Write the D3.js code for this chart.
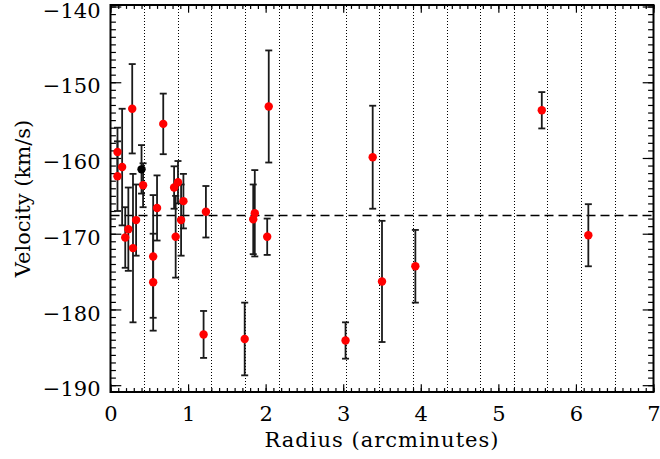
<!DOCTYPE html>
<html><head><meta charset="utf-8">
<script src="https://cdn.jsdelivr.net/npm/d3@7"></script>
<style>
html,body{margin:0;padding:0;background:#fff;}
svg{display:block;}
text{font-family:"DejaVu Serif",serif;fill:#000;}
</style></head>
<body><svg id="c" width="660" height="459"></svg>
<script>
// Data (radius in arcmin, velocity km/s, error km/s)
const radius   = [0.28, 0.68, 0.09, 0.15, 0.09, 0.42, 0.23, 0.19, 0.29, 0.33, 0.55, 0.55, 0.60, 0.82, 0.87, 0.94, 0.91, 0.84, 1.23, 1.86, 1.84, 2.02, 2.04, 1.20, 1.73, 3.38, 5.56, 3.03, 3.50, 3.93, 6.16];
const velocity = [-153.5, -155.5, -159.2, -161.2, -162.4, -163.6, -169.4, -170.5, -171.9, -168.2, -173.0, -176.4, -166.6, -163.9, -163.2, -165.7, -168.2, -170.4, -167.1, -167.3, -168.1, -170.4, -153.2, -183.3, -183.9, -159.9, -153.7, -184.1, -176.3, -174.3, -170.2];
const errors   = [5.9, 4.0, 3.2, 7.7, 4.6, 2.9, 5.5, 4.0, 9.8, 4.7, 8.1, 6.4, 4.3, 2.8, 2.8, 3.6, 4.7, 5.4, 3.4, 5.7, 4.6, 2.4, 7.4, 3.1, 4.8, 6.8, 2.4, 2.4, 8.0, 4.8, 4.1];
// highlighted (black) star
const blackRadius = [0.40];
const blackVelocity = [-161.5];
const blackError = [3.2];
// systemic velocity (dashed line)
const meanVelocity = -167.5;
// dotted reference radii
const gridRadii = [0.433, 0.867, 1.3, 1.733, 2.167, 2.6, 3.033, 3.467, 3.9, 4.333, 4.767, 5.2, 5.633, 6.067, 6.5];
const xTicks = [0,1,2,3,4,5,6,7];
const yTicks = [-140,-150,-160,-170,-180,-190];
const xLabel = "Radius (arcminutes)";
const yLabel = "Velocity (km/s)";

const L = 110.5, R = 653.5, T = 5, B = 392;
const svg = d3.select("#c");
const x = d3.scaleLinear().domain([0,7]).range([L,R]);
const y = d3.scaleLinear().domain([-190.9,-139.8]).range([B,T]);
const snap = v => Math.round(v) + 0.5;

// dotted verticals
svg.append("g").selectAll("line").data(gridRadii).join("line")
  .attr("x1",d=>snap(x(d))).attr("x2",d=>snap(x(d))).attr("y1",6).attr("y2",B)
  .attr("stroke","#000").attr("stroke-width",1).attr("stroke-dasharray","1,2");

// dashed mean line
svg.append("line").attr("x1",L).attr("x2",R).attr("y1",snap(y(meanVelocity))).attr("y2",snap(y(meanVelocity)))
  .attr("stroke","#000").attr("stroke-width",1.3).attr("stroke-dasharray","9,5");

// axes
const xMinor = d3.range(0,7.0001,0.1).map(v=>+v.toFixed(2));
const yMinor = d3.range(-190,-139.5,1);
function styleAxis(g){ g.select(".domain").remove(); g.selectAll("line").attr("stroke","#000").attr("stroke-width",1.2); }
svg.append("g").attr("transform",`translate(0,${B})`)
  .call(d3.axisBottom(x).tickValues(xMinor).tickSize(-3.9).tickFormat("")).call(styleAxis);
svg.append("g").attr("transform",`translate(0,${T})`)
  .call(d3.axisTop(x).tickValues(xMinor).tickSize(-3.9).tickFormat("")).call(styleAxis);
svg.append("g").attr("transform",`translate(${L},0)`)
  .call(d3.axisLeft(y).tickValues(yMinor).tickSize(-5.4).tickFormat("")).call(styleAxis);
svg.append("g").attr("transform",`translate(${R},0)`)
  .call(d3.axisRight(y).tickValues(yMinor).tickSize(-5.4).tickFormat("")).call(styleAxis);

const xb = svg.append("g").attr("transform",`translate(0,${B})`)
  .call(d3.axisBottom(x).tickValues(xTicks).tickSize(-7.7).tickPadding(14).tickFormat(d3.format("d"))).call(styleAxis);
xb.selectAll("text").attr("font-size",21).attr("font-family","DejaVu Serif");
svg.append("g").attr("transform",`translate(0,${T})`)
  .call(d3.axisTop(x).tickValues(xTicks).tickSize(-7.7).tickFormat("")).call(styleAxis);
const yl = svg.append("g").attr("transform",`translate(${L},0)`)
  .call(d3.axisLeft(y).tickValues(yTicks).tickSize(-10.8).tickPadding(10).tickFormat(d=>"\u2212"+Math.abs(d))).call(styleAxis);
yl.selectAll("text").attr("font-size",21).attr("font-family","DejaVu Serif").attr("dy","0.7em").attr("y",-4);
svg.append("g").attr("transform",`translate(${R},0)`)
  .call(d3.axisRight(y).tickValues(yTicks).tickSize(-10.8).tickFormat("")).call(styleAxis);

// frame
svg.append("rect").attr("x",L).attr("y",T).attr("width",R-L).attr("height",B-T)
  .attr("fill","none").attr("stroke","#000").attr("stroke-width",2);

// error bars
function errBars(rs, vs, es, g){
  const idx = d3.range(rs.length);
  g.selectAll("line.v").data(idx).join("line").attr("class","v")
    .attr("x1",i=>x(rs[i])).attr("x2",i=>x(rs[i]))
    .attr("y1",i=>y(vs[i]+es[i])).attr("y2",i=>y(vs[i]-es[i]))
    .attr("stroke","#1a1a1a").attr("stroke-width",1.8);
  g.selectAll("line.t").data(idx).join("line").attr("class","t")
    .attr("x1",i=>x(rs[i])-3.5).attr("x2",i=>x(rs[i])+3.5)
    .attr("y1",i=>y(vs[i]+es[i])).attr("y2",i=>y(vs[i]+es[i]))
    .attr("stroke","#1a1a1a").attr("stroke-width",1.8);
  g.selectAll("line.b").data(idx).join("line").attr("class","b")
    .attr("x1",i=>x(rs[i])-3.5).attr("x2",i=>x(rs[i])+3.5)
    .attr("y1",i=>y(vs[i]-es[i])).attr("y2",i=>y(vs[i]-es[i]))
    .attr("stroke","#1a1a1a").attr("stroke-width",1.8);
}
errBars(radius, velocity, errors, svg.append("g"));
errBars(blackRadius, blackVelocity, blackError, svg.append("g"));

// points
svg.append("g").selectAll("circle").data(d3.range(radius.length)).join("circle")
  .attr("cx",i=>x(radius[i])).attr("cy",i=>y(velocity[i])).attr("r",4.2).attr("fill","#ff0000");
svg.append("g").selectAll("circle").data(d3.range(blackRadius.length)).join("circle")
  .attr("cx",i=>x(blackRadius[i])).attr("cy",i=>y(blackVelocity[i])).attr("r",4.2).attr("fill","#000");

// axis titles
svg.append("text").attr("x",(L+R)/2).attr("y",447).attr("text-anchor","middle")
  .attr("font-size",21).attr("letter-spacing","1").text(xLabel);
svg.append("text").attr("transform",`translate(30,${(T+B)/2}) rotate(-90)`).attr("text-anchor","middle")
  .attr("font-size",21).text(yLabel);
</script></body></html>
